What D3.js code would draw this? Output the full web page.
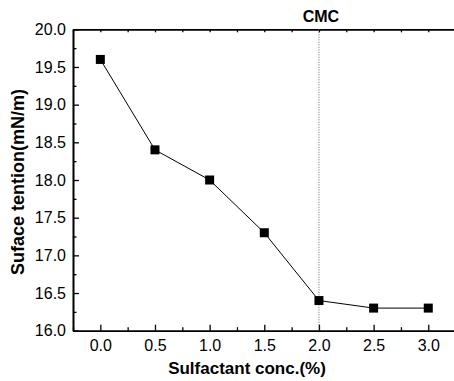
<!DOCTYPE html>
<html><head><meta charset="utf-8">
<script src="https://cdn.jsdelivr.net/npm/d3@7"></script>
<style>
html,body{margin:0;padding:0;background:#fff;}
svg{display:block;font-family:"Liberation Sans",Arial,Helvetica,sans-serif;}
</style></head>
<body>
<svg id="c" width="454" height="381"></svg>
<script>
const concentrations = [0.0, 0.5, 1.0, 1.5, 2.0, 2.5, 3.0];
const tensions = [19.6, 18.4, 18.0, 17.3, 16.4, 16.3, 16.3];
const xTicks = [0.0, 0.5, 1.0, 1.5, 2.0, 2.5, 3.0];
const xMinor = [-0.25, 0.25, 0.75, 1.25, 1.75, 2.25, 2.75, 3.25];
const yTicks = [16.0, 16.5, 17.0, 17.5, 18.0, 18.5, 19.0, 19.5, 20.0];
const yMinor = [16.25, 16.75, 17.25, 17.75, 18.25, 18.75, 19.25, 19.75];
const cmcValue = 2.0;
const xTitle = "Sulfactant conc.(%)";
const yTitle = "Suface tention(mN/m)";
const cmcLabel = "CMC";

const svg = d3.select("#c");
const x = d3.scaleLinear().domain([-0.25, 3.25]).range([73, 455.6]);
const y = d3.scaleLinear().domain([16, 20]).range([330.7, 29.3]);
const fmt = d3.format(".1f");

function styleAxis(g){
  g.selectAll("path.domain").attr("stroke","#000").attr("stroke-width",1.6);
  g.selectAll(".tick line").attr("stroke","#000").attr("stroke-width",1.3);
  g.selectAll("text").attr("fill","#000").attr("font-size",16);
}

// bottom axis
svg.append("g").attr("transform",`translate(0,${y(16)})`)
  .call(d3.axisBottom(x).tickValues(xMinor).tickSize(-3.5).tickSizeOuter(0).tickFormat(""))
  .call(styleAxis);
svg.append("g").attr("transform",`translate(0,${y(16)})`)
  .call(d3.axisBottom(x).tickValues(xTicks).tickSize(-6).tickSizeOuter(0).tickPadding(9).tickFormat(fmt))
  .call(styleAxis);
// top axis
svg.append("g").attr("transform",`translate(0,${y(20)})`)
  .call(d3.axisTop(x).tickValues(xMinor).tickSize(-3).tickSizeOuter(0).tickFormat(""))
  .call(styleAxis);
svg.append("g").attr("transform",`translate(0,${y(20)})`)
  .call(d3.axisTop(x).tickValues(xTicks).tickSize(-3).tickSizeOuter(0).tickFormat(""))
  .call(styleAxis);
// left axis
svg.append("g").attr("transform",`translate(${x(-0.25)},0)`)
  .call(d3.axisLeft(y).tickValues(yMinor).tickSize(-3.5).tickSizeOuter(0).tickFormat(""))
  .call(styleAxis);
svg.append("g").attr("transform",`translate(${x(-0.25)},0)`)
  .call(d3.axisLeft(y).tickValues(yTicks).tickSize(-6).tickSizeOuter(0).tickPadding(7).tickFormat(fmt))
  .call(styleAxis);

// CMC dotted line
svg.append("line")
  .attr("x1",x(cmcValue)).attr("x2",x(cmcValue))
  .attr("y1",y(20)).attr("y2",y(16))
  .attr("stroke","#666").attr("stroke-width",1).attr("stroke-dasharray","1,1.5");
svg.append("text").attr("x",x(cmcValue)+2).attr("y",21.5)
  .attr("text-anchor","middle").attr("font-weight","bold").attr("font-size",16)
  .text(cmcLabel);

// line
const pts = concentrations.map((c,i)=>[c,tensions[i]]);
svg.append("path").datum(pts)
  .attr("fill","none").attr("stroke","#000").attr("stroke-width",1)
  .attr("d", d3.line().x(d=>x(d[0])).y(d=>y(d[1])));
svg.selectAll("rect.m").data(pts).enter().append("rect").attr("class","m")
  .attr("x",d=>x(d[0])-4.5).attr("y",d=>y(d[1])-4.5)
  .attr("width",9).attr("height",9).attr("fill","#000");

// titles
svg.append("text").attr("x",247).attr("y",374)
  .attr("text-anchor","middle").attr("font-weight","bold").attr("font-size",17)
  .text(xTitle);
svg.append("text").attr("transform",`translate(24,182) rotate(-90)`)
  .attr("text-anchor","middle").attr("font-weight","bold").attr("font-size",18)
  .text(yTitle);
</script>
</body></html>
